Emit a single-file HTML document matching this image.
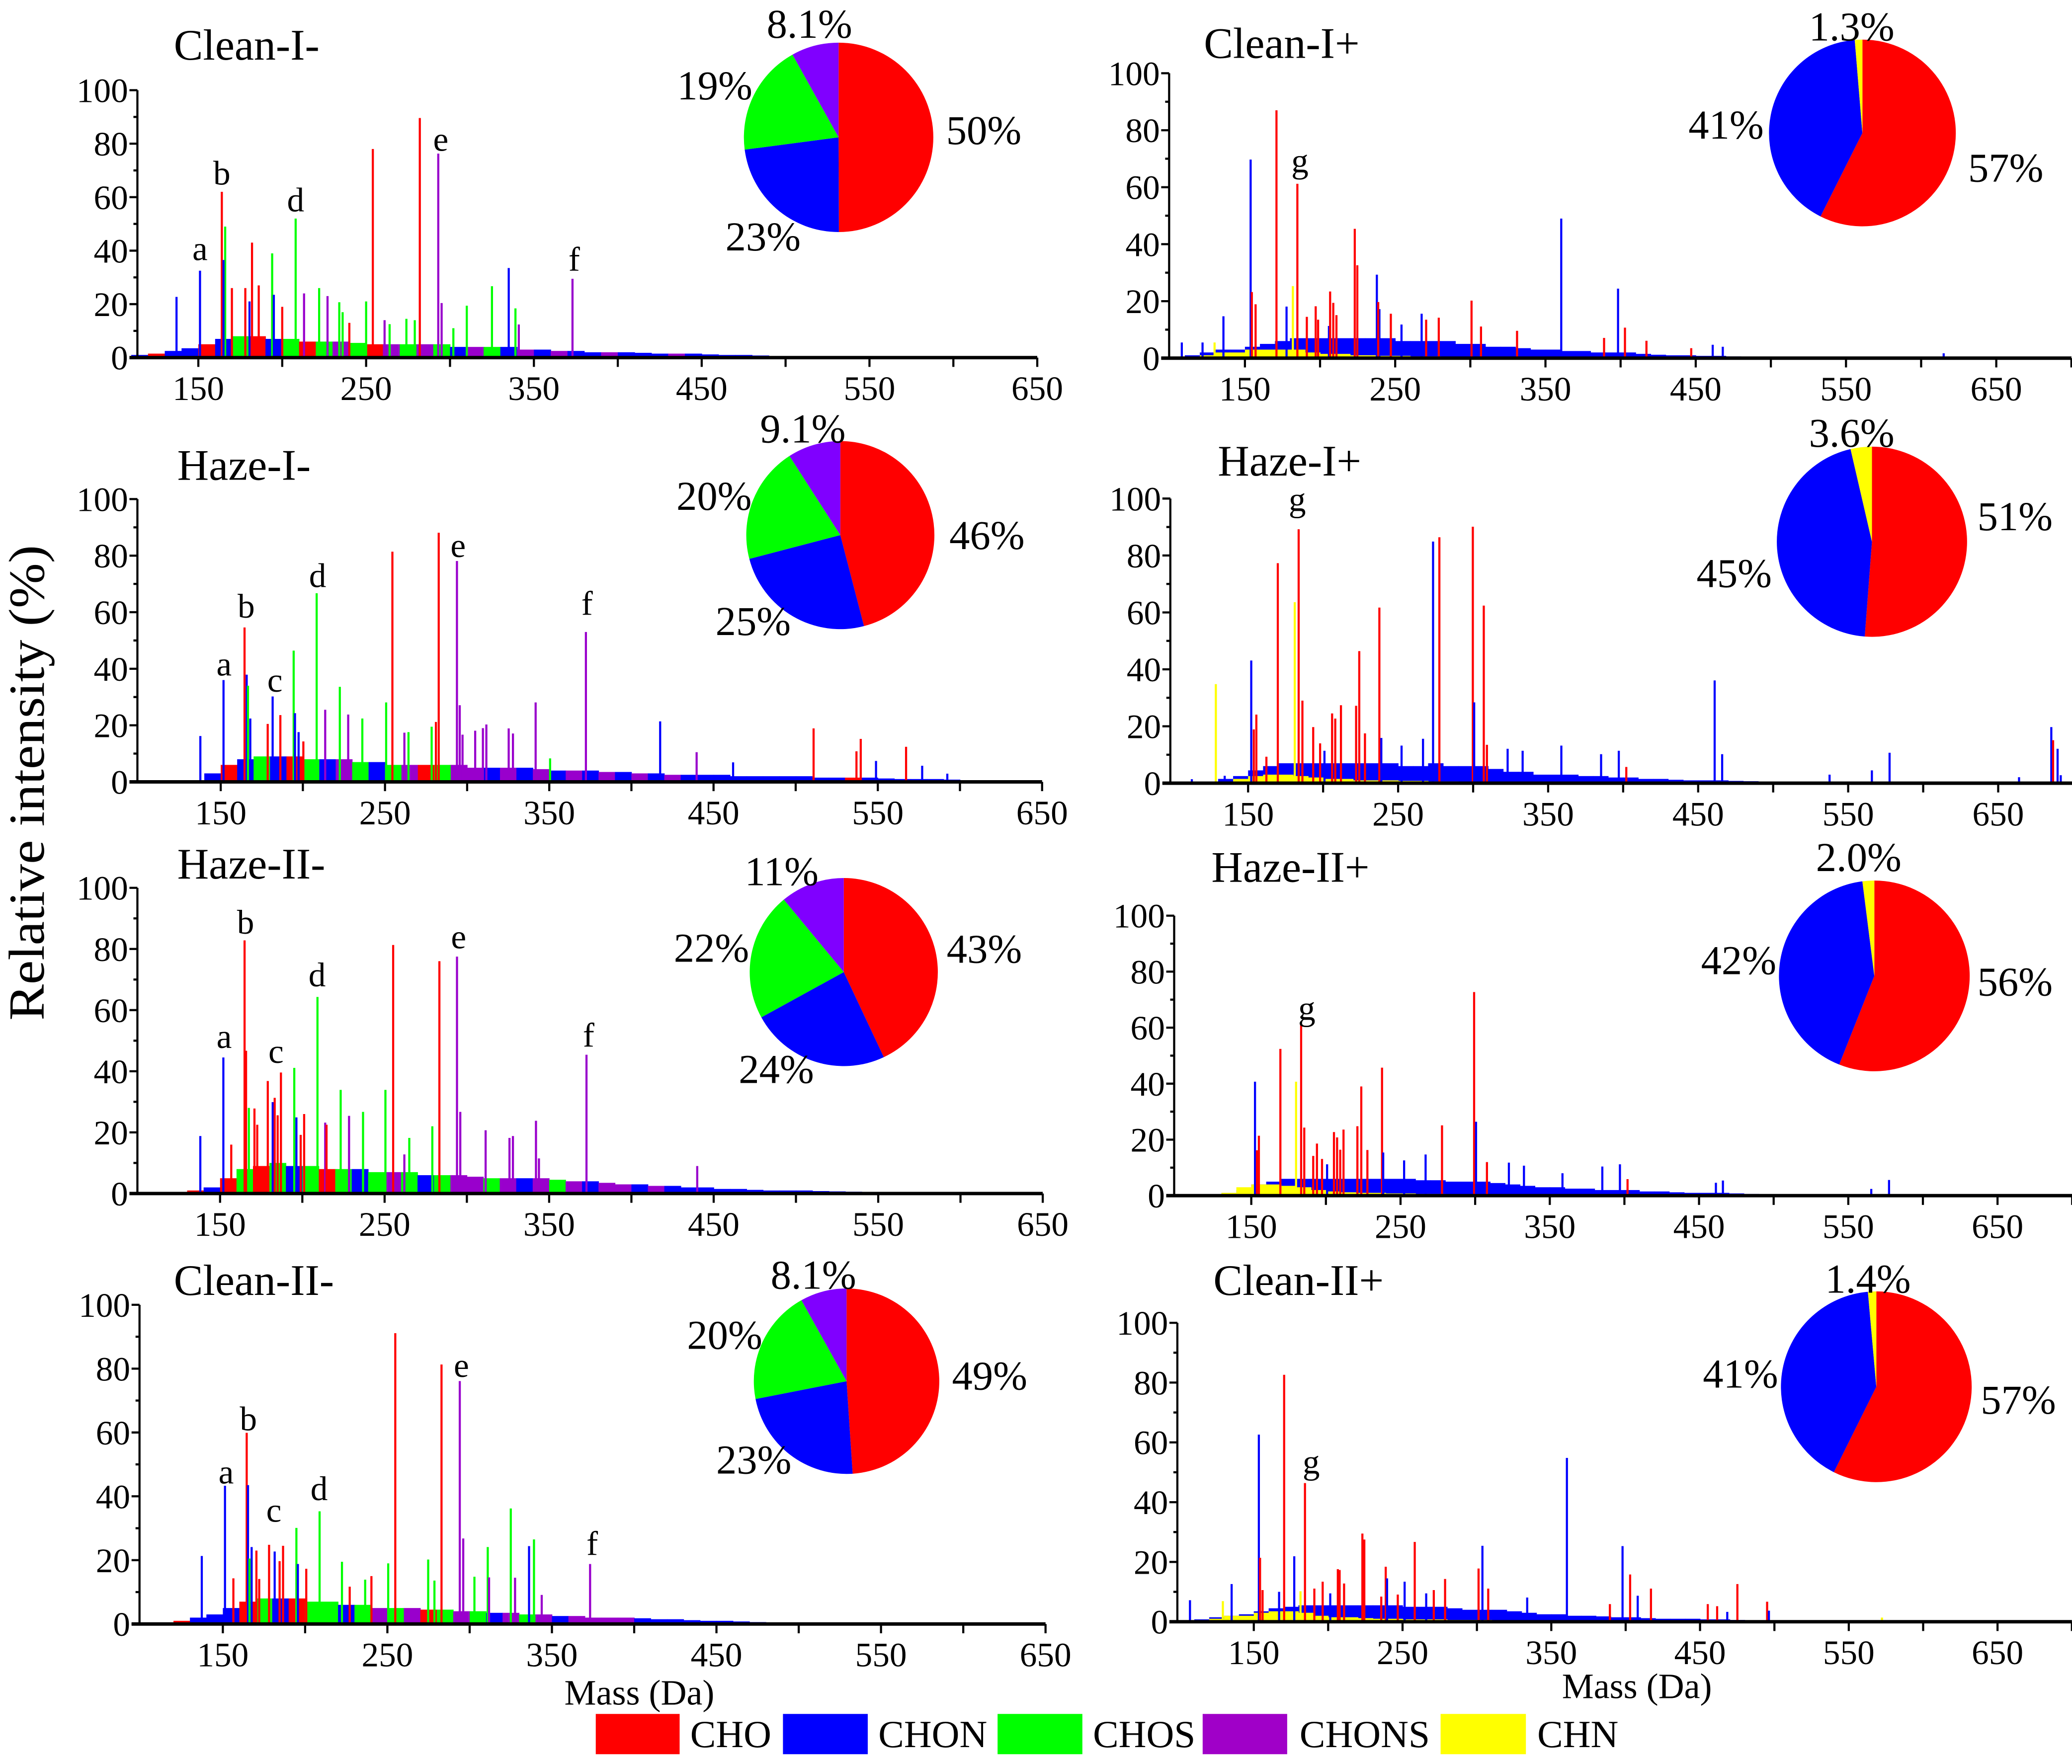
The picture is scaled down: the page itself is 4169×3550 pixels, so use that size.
<!DOCTYPE html>
<html><head><meta charset="utf-8"><style>
html,body{margin:0;padding:0;background:#fff;}
svg{display:block;}
text{font-family:"Liberation Serif",serif;fill:#000;}
</style></head><body>
<svg id="fig" width="4169" height="3550" viewBox="0 0 1564 1331.8" xmlns="http://www.w3.org/2000/svg">
<rect x="0" y="0" width="1564" height="1331.8" fill="#fff"/>
<text x="33" y="591" font-size="38" text-anchor="middle" textLength="359" lengthAdjust="spacingAndGlyphs" transform="rotate(-90 33 591)">Relative intensity (%)</text>
<text x="426" y="1287" font-size="27">Mass (Da)</text>
<text x="1179" y="1282" font-size="27">Mass (Da)</text>
<g>
<rect x="449.7" y="1294" width="63.3" height="30.4" fill="#FF0000"/>
<text x="521" y="1319" font-size="29">CHO</text>
<rect x="591" y="1294" width="64" height="30.4" fill="#0000FF"/>
<text x="663" y="1319" font-size="29">CHON</text>
<rect x="753" y="1294" width="64" height="30.4" fill="#00FF00"/>
<text x="825" y="1319" font-size="29">CHOS</text>
<rect x="907.8" y="1294" width="63.8" height="30.4" fill="#A000C8"/>
<text x="981" y="1319" font-size="29">CHONS</text>
<rect x="1087.4" y="1294" width="64.4" height="30.4" fill="#FFFF00"/>
<text x="1160.4" y="1319" font-size="29">CHN</text>
</g>
</svg>
<script>
// ===== DATA =====
// class codes: R=CHO, B=CHON, G=CHOS, P=CHONS, Y=CHN
const cleanIMinusMass=[137,151,164,166,165,170,182,178,186,180.5,194,195,200,208,213,222,227,234,236,240,250,261,254,264,274,279,282,293,295,302,310,325,335,339,341,373];
const cleanIMinusInt=[22.7,32.5,62,49,36.5,26,43,26,27,21,39,23.5,19,52,24,26,23,20.7,17,13,21,14,78,12.5,14.5,14,89.6,76.3,20.4,11,19.4,26.7,33.5,18.4,12.4,29.5];
const cleanIMinusCls=["B","B","R","G","B","R","R","R","R","B","G","B","R","G","P","G","P","G","G","R","G","P","R","G","G","G","R","P","P","G","G","G","B","G","P","P"];
const cleanIMinusEnvMass=[110,120,130,140,150,160,170,180,190,200,210,220,230,240,250,260,270,280,290,300,310,320,330,340,350,360,370,380,390,400,410,420,430,440,450,460,470,480,490,500];
const cleanIMinusEnvInt=[1,1.5,2.5,3.5,5,7,8,8,7,7,6,6,6,5.5,5,5,5,5,5,4,4,4,4,3,3,2.5,2.5,2,2,2,1.8,1.5,1.5,1.5,1.2,1,1,0.8,0.5,0.3];
const cleanIMinusEnvCls=["B","R","B","B","R","B","G","R","B","G","R","G","P","G","R","P","G","P","G","B","P","G","B","P","B","P","B","B","P","B","B","B","P","B","B","B","B","B","B","R"];
const cleanIMinusLabelText=["a","b","d","e","f"];
const cleanIMinusLabelMass=[151,164,208,294.5,374];
const cleanIMinusLabelInt=[36.5,64.7,54.7,77.3,32.5];
const cleanIMinusPie=[50,23,19,8.1];
const cleanIMinusPieLabels=["50%","23%","19%","8.1%"];

const hazeIMinusMass=[137.6,151.7,164.5,165.8,166.6,168,178.6,181.6,186.3,194.4,195.2,197.4,200.3,208.4,213.6,222.5,227.6,236.2,250.7,254.5,261.8,264.3,278.4,281,282.7,293.8,295.5,297.2,304.9,309.6,311.7,325.3,327.9,341.7,350.5,372.3,417.5,439.7,461.9,510.9,537,539.6,548.9,567.2,577,592.3];
const hazeIMinusInt=[16.2,36,54.6,37.9,34,22.4,20.5,30.2,23.6,46.4,24.3,17.6,14.3,66.7,25.5,33.6,23.8,22.4,28.1,81.4,17.4,17.6,19.5,21.2,88.1,78.1,27.1,16.7,18.1,19,20.3,18.9,17.1,28.1,8.3,53,21.4,10.5,6.9,18.9,10.8,15.2,7.4,12.4,5.7,2.9];
const hazeIMinusCls=["B","B","R","B","G","B","R","B","R","G","B","B","R","G","P","G","P","G","G","R","P","G","G","R","R","P","P","P","P","P","P","P","P","P","G","P","B","P","B","R","R","R","B","R","B","B"];
const hazeIMinusEnvMass=[140,150,160,170,180,190,200,210,220,230,240,250,260,270,280,290,300,310,320,330,340,350,360,370,380,390,400,410,420,430,440,450,460,470,480,490,500,510,520,530,540,550,560,570,580,590,600];
const hazeIMinusEnvInt=[3,6,8,9,9,9,8,8,8,7,7,6,6,6,6,6,5,5,5,5,4.5,4,4,4,3.5,3.5,3,3,2.5,2.5,2.5,2.5,2,2,2,2,2,1.5,1.5,1.5,1.5,1.2,1,1,1,0.8,0.5];
const hazeIMinusEnvCls=["B","R","B","G","B","R","G","B","P","G","B","G","P","R","G","P","P","B","P","B","P","B","P","B","P","B","P","B","P","B","B","B","B","B","B","B","B","B","B","R","B","B","B","B","B","B","B"];
const hazeIMinusLabelText=["a","b","c","d","e","f"];
const hazeIMinusLabelMass=[152,165.5,183,209,294.5,373];
const hazeIMinusLabelInt=[37.6,58.1,31.9,68.9,79.5,59];
const hazeIMinusPie=[46,25,20,9.1];
const hazeIMinusPieLabels=["46%","25%","20%","9.1%"];

const hazeIIMinusMass=[138,152,156.8,164.9,165.8,167.5,170.9,172.6,179,182,183.2,185,187,195.1,196.4,199,201.1,209.2,213.9,214.7,223.3,228.4,236.9,250.5,255.2,262,265,279,283.3,294,296,311.4,325.9,328,342,343.8,372.7,440];
const hazeIIMinusInt=[18.8,44.5,16,82.8,46.7,28,27.8,22.5,36.8,29.9,31.3,25.6,39.6,41.1,24.9,19.2,26,64.3,23.2,22.5,33.9,25.4,26.7,33.9,81.3,12.8,18.2,22,76,77.5,26.7,20.7,18.2,18.8,23.8,11.5,45.4,9];
const hazeIIMinusCls=["B","B","R","R","R","G","R","R","R","B","R","R","R","G","B","R","R","G","P","R","G","P","G","G","R","P","G","G","R","P","P","P","P","P","P","P","P","P"];
const hazeIIMinusEnvMass=[120,130,140,150,160,170,180,190,200,210,220,230,240,250,260,270,280,290,300,310,320,330,340,350,360,370,380,390,400,410,420,430,440,450,460,470,480,490,500,510,520,530,540,550,560,570];
const hazeIIMinusEnvInt=[0.5,1,2,5,8,9,10,9,9,8,8,8,7,7,7,6,6,6,5.5,5,5,5,5,4.5,4,4,3.5,3,3,2.5,2.5,2,2,1.5,1.5,1.2,1,1,1,0.8,0.7,0.6,0.5,0.4,0.3,0.2];
const hazeIIMinusEnvCls=["R","R","B","R","G","R","G","B","G","R","G","B","G","P","G","B","G","P","P","G","P","B","P","G","P","B","P","P","B","P","B","B","B","B","B","B","B","B","B","B","B","B","B","B","B","B"];
const hazeIIMinusLabelText=["a","b","c","d","e","f"];
const hazeIIMinusLabelMass=[152.5,165.5,184,209,295,374];
const hazeIIMinusLabelInt=[47.6,85,42.7,67.8,80.2,48];
const hazeIIMinusPie=[43,24,22,11];
const hazeIIMinusPieLabels=["43%","24%","22%","11%"];

const cleanIIMinusMass=[137.2,151.3,156.4,164.5,165.3,167.5,166.2,170.4,172.1,178.1,181.5,184.5,186.6,194.7,195.6,200.7,208.8,222.4,227.1,236.5,240.3,250.5,254.8,274.8,278.6,282.9,294,296.1,302.9,311,311.8,325,327.6,336.1,339.1,343.8,373.2];
const cleanIIMinusInt=[21.3,43.3,14.3,59.9,43.5,24.1,20.5,23,14.1,24.8,22.7,19.7,24.5,30.1,18.8,17.3,35.3,19.5,11.7,13.9,15,19,91.1,20.2,13.6,81.3,76.1,26.8,14.8,24.1,14.6,36.2,14.5,24.4,26.5,9.1,18.8];
const cleanIIMinusCls=["B","B","R","R","B","B","G","R","R","R","B","R","R","G","B","R","G","G","R","G","R","G","R","G","G","R","P","P","G","G","P","G","P","B","G","P","P"];
const cleanIIMinusEnvMass=[120,130,140,150,160,170,180,190,200,210,220,230,240,250,260,270,280,290,300,310,320,330,340,350,360,370,380,390,400,410,420,430,440,450,460,470,480];
const cleanIIMinusEnvInt=[1,2,3,5,7,8,8,8,7,7,6,6,5,5,5,4.5,4.5,4,4,3.5,3.5,3,3,2.5,2.5,2,2,2,1.8,1.5,1.5,1.2,1,1,0.8,0.6,0.4];
const cleanIIMinusEnvCls=["R","B","B","B","R","G","B","R","G","G","B","G","P","G","P","R","G","P","G","B","P","G","P","B","P","P","P","P","B","B","B","B","B","B","B","B","B"];
const cleanIIMinusLabelText=["a","b","c","d","e","f"];
const cleanIIMinusLabelMass=[152,165.5,181,208.5,295,374.5];
const cleanIIMinusLabelInt=[44,60.7,32,38.8,77.4,21.6];
const cleanIIMinusPie=[49,23,20,8.1];
const cleanIIMinusPieLabels=["49%","23%","20%","8.1%"];

const cleanIPlusMass=[108,121.8,135.7,129.8,153.8,154.6,157.1,171,177.7,181.9,184.9,191.2,197.1,198.7,205.9,206.7,208.8,210.9,223.1,224.8,237.8,239.5,238.7,254.2,247.1,267.6,270.6,279,300.8,307.1,331.1,360.5,389,398.3,402.9,417.2,461.3,468,447,615];
const cleanIPlusInt=[5.5,5.5,14.7,5.5,69.7,23.2,18.9,87,18.1,25.3,61.2,14.5,18.2,13.5,11.3,23.4,19.4,15.1,45.4,32.6,29.3,17.2,19.7,11.8,15.6,15.6,13.5,14.2,20.2,11.1,9.6,49,7.1,24.4,10.7,6.1,4.7,4,3.5,1.7];
const cleanIPlusCls=["B","B","B","Y","B","R","R","R","B","Y","R","R","R","R","B","R","R","R","R","R","B","B","R","B","R","B","R","R","R","R","R","B","R","B","R","R","B","B","R","B"];
const cleanIPlusEnvMass=[110,120,130,140,150,160,170,180,190,200,210,220,230,240,250,260,270,280,290,300,310,320,330,340,350,360,370,380,390,400,410,420,430,440,450,460,470,480,490,500,510];
const cleanIPlusEnvInt=[1,2,3,3,4,5,6,7,7,7,7,7,7,7,6,6,6,6,5,5,4,4,3.5,3,3,2.5,2.5,2,2,2,1.5,1.2,1,1,0.8,0.8,0.6,0.5,0.4,0.3,0.3];
const cleanIPlusYEnvMass=[120,130,140,150,160,170,180,190,200,210,220,230,240,250,260,270,280,290];
const cleanIPlusYEnvInt=[1,2,2,3,3,3,3,2,1.5,1.5,1,1,0.8,0.8,0.6,0.6,0.5,0.5];
const cleanIPlusLabelText=["g"];
const cleanIPlusLabelMass=[186.6];
const cleanIPlusLabelInt=[65.2];
const cleanIPlusPie=[57,41,1.3];
const cleanIPlusPieLabels=["57%","41%","1.3%"];

const hazeIPlusMass=[112.5,128.5,134.4,152.1,153.8,155.5,162.2,169.8,181.1,183.7,186.2,193.4,198,200.9,206,208.1,211.9,222,224.1,227.9,237.5,238.8,252.3,266.6,273.3,277.5,299.8,300.7,307.1,309.2,323,333,358.8,385.3,397.1,402.1,461,466,537.6,565.8,577.6,663.9,685.4,686.6,689.6,691.7];
const hazeIPlusInt=[1.4,34.8,2.6,43.1,18.9,24.1,9.3,77.3,63.6,89.2,29,19.7,14,11.4,24.5,22.7,27.4,27.2,46.4,17.5,61.7,15.9,13.2,15.6,84.9,86.4,90.1,28.4,62.4,13.5,12.1,11.4,13.2,10.2,11.4,5.7,36.1,10.2,3,4.5,10.7,2.1,19.7,15.1,12.1,2.8];
const hazeIPlusCls=["B","Y","B","B","R","R","R","R","Y","R","R","R","R","B","R","R","R","R","R","R","R","B","B","B","B","R","R","B","R","R","B","B","B","B","B","R","B","B","B","B","B","B","B","R","B","B"];
const hazeIPlusEnvMass=[130,140,150,160,170,180,190,200,210,220,230,240,250,260,270,280,290,300,310,320,330,340,350,360,370,380,390,400,410,420,430,440,450,460,470,480,490,500,510,520];
const hazeIPlusEnvInt=[1.5,2.5,4.5,6,7,7,7,7,7,7,7,7,6,6,7,6,6,6,5,4,4,3,3,3,2.5,2.5,2,2,1.5,1.5,1.2,1,1,1,0.8,0.7,0.5,0.4,0.3,0.3];
const hazeIPlusYEnvMass=[140,150,160,170,180,190,200,210,220,230,240,250,260,270,280,290,300];
const hazeIPlusYEnvInt=[1.5,2.5,3,3,2.5,2,1.5,1.5,1,1,1,0.8,0.8,0.6,0.6,0.5,0.5];
const hazeIPlusLabelText=["g"];
const hazeIPlusLabelMass=[182.8];
const hazeIPlusLabelInt=[95.6];
const hazeIPlusPie=[51,45,3.6];
const hazeIPlusPieLabels=["51%","45%","3.6%"];

const hazeIIPlusMass=[152.5,155.1,153.8,169.5,180,183.4,185.5,191.5,194,197.4,200.8,205.4,207.5,209.6,211.8,221.1,223.7,227.8,237.6,238.4,252.4,266.8,277.8,299.3,300.6,307.9,322.6,332.7,358.5,385.2,397,402.1,461.3,466,565.4,577.3];
const hazeIIPlusInt=[40.7,21.4,16.2,52.4,40.7,61.1,24.3,14.2,18.6,13.1,11.2,22.7,20.8,16.4,23.6,24.8,39,16.3,45.7,15.4,12.6,14.7,25.1,72.7,26.4,12,11.8,10.7,8,10.4,11.2,5.9,4.6,5.4,2.4,5.6];
const hazeIIPlusCls=["B","R","R","R","Y","R","R","R","R","R","B","R","R","R","R","R","R","R","R","B","B","B","R","R","B","R","B","B","B","B","B","R","B","B","B","B"];
const hazeIIPlusEnvMass=[130,140,150,160,170,180,190,200,210,220,230,240,250,260,270,280,290,300,310,320,330,340,350,360,370,380,390,400,410,420,430,440,450,460,470,480,490,500,510];
const hazeIIPlusEnvInt=[1,2,4,5,6,6,6,6,6,6,6,6,6,5.5,5.5,5,5,5,4.5,4,3.5,3,3,2.5,2.5,2,2,2,1.5,1.5,1.2,1,1,1,0.8,0.6,0.5,0.4,0.3];
const hazeIIPlusYEnvMass=[130,140,150,160,170,180,190,200,210,220,230,240,250,260,270,280,290,300];
const hazeIIPlusYEnvInt=[1,3,4,4,3.5,3,2,1.5,1.2,1,1,0.8,0.8,0.6,0.6,0.5,0.5,0.5];
const hazeIIPlusLabelText=["g"];
const hazeIIPlusLabelMass=[187.2];
const hazeIIPlusLabelInt=[62.8];
const hazeIIPlusPie=[56,42,2.0];
const hazeIIPlusPieLabels=["56%","42%","2.0%"];

const cleanIIPlusMass=[107.1,135.1,129.2,153.4,154.2,155.9,167,170.4,177.2,181.4,184.4,190.7,196.3,201.4,206.5,207.7,210.7,223,224.3,235.7,238.7,239.6,246.8,251.4,258.2,265.9,271,278.6,301.1,303.7,307.6,333.8,360.5,389.4,397.9,403,408.1,417,455.2,461.5,475.1,468.3,495.1,496.3,572.3];
const cleanIIPlusInt=[7.2,12.6,6.9,62.6,21.4,10.6,10,82.6,21.9,10.2,46.4,11.1,13.4,9.5,17.6,17.3,12.8,29.5,27.5,8.4,18.4,14.5,9.1,13.4,26.7,9.5,10.6,14.3,17.8,25.4,11.1,8.1,54.8,5.9,25.3,15.8,8.7,11.1,5.9,5.2,12.6,3.3,6.7,3.7,1.4];
const cleanIIPlusCls=["B","B","Y","B","R","R","B","R","B","Y","R","R","R","B","R","R","R","R","R","R","R","B","R","B","R","B","R","R","R","B","R","B","B","R","B","R","B","R","R","R","R","B","R","B","Y"];
const cleanIIPlusEnvMass=[110,120,130,140,150,160,170,180,190,200,210,220,230,240,250,260,270,280,290,300,310,320,330,340,350,360,370,380,390,400,410,420,430,440,450,460,470,480,490,500,510];
const cleanIIPlusEnvInt=[0.8,1.5,2,2.5,3.5,4.5,5,5.5,5.5,5.5,5.5,5.5,5.5,5.5,5,5,5,4.5,4,4,4,3.5,3,2.5,2.5,2,2,1.8,1.5,1.5,1.2,1,1,1,0.8,0.8,0.6,0.5,0.4,0.3,0.3];
const cleanIIPlusYEnvMass=[120,130,140,150,160,170,180,190,200,210,220,230,240,250,260,270,280,290,300,310,320];
const cleanIIPlusYEnvInt=[1,2,2,3,3.5,3.5,3,2,1.5,1.5,1.2,1,1,0.8,0.8,0.8,0.6,0.6,0.6,0.5,0.5];
const cleanIIPlusLabelText=["g"];
const cleanIIPlusLabelMass=[188.6];
const cleanIIPlusLabelInt=[49.6];
const cleanIIPlusPie=[57,41,1.4];
const cleanIIPlusPieLabels=["57%","41%","1.4%"];

const yTicks=[0,20,40,60,80,100];
const xTickLabels=[150,250,350,450,550,650];

// ===== RENDER =====
const NS="http://www.w3.org/2000/svg";
const svg=document.getElementById('fig');
const COL={R:"#FF0000",B:"#0000FF",G:"#00FF00",P:"#9900CC",Y:"#FFFF00"};
const PIECOL={R:"#FF0000",B:"#0000FF",G:"#00FF00",P:"#8000FF",Y:"#FFFF00"};
function mk(tag,attrs,parent){const e=document.createElementNS(NS,tag);for(const k in attrs)e.setAttribute(k,attrs[k]);(parent||svg).appendChild(e);return e;}

const panels=[
 {id:"clean-i-neg",title:"Clean-I-",tx:131.2,ty:45.1,x150:149.7,ppd:1.2665,y0:270,y100:68.1,ax:103.7,mMin:108,mMax:650,tickMax:650,
  mass:cleanIMinusMass,inten:cleanIMinusInt,cls:cleanIMinusCls,envM:cleanIMinusEnvMass,envI:cleanIMinusEnvInt,envC:cleanIMinusEnvCls,
  lt:cleanIMinusLabelText,lm:cleanIMinusLabelMass,li:cleanIMinusLabelInt,pie:cleanIMinusPie,pieL:cleanIMinusPieLabels,pieC:["R","B","G","P"],
  cx:633,cy:103.7,r:71.5,pl:[[742.6,108.8],[576,189],[539.5,75],[611,28.5]]},
 {id:"haze-i-neg",title:"Haze-I-",tx:133.8,ty:362.2,x150:166.6,ppd:1.24,y0:590.3,y100:376.8,ax:103.7,mMin:99,mMax:650,tickMax:650,
  mass:hazeIMinusMass,inten:hazeIMinusInt,cls:hazeIMinusCls,envM:hazeIMinusEnvMass,envI:hazeIMinusEnvInt,envC:hazeIMinusEnvCls,
  lt:hazeIMinusLabelText,lm:hazeIMinusLabelMass,li:hazeIMinusLabelInt,pie:hazeIMinusPie,pieL:hazeIMinusPieLabels,pieC:["R","B","G","P"],
  cx:634.3,cy:404,r:71,pl:[[745,414.5],[568.5,479.5],[539,385],[606,334]]},
 {id:"haze-ii-neg",title:"Haze-II-",tx:133.8,ty:663.2,x150:166.1,ppd:1.242,y0:901.1,y100:670.3,ax:103.7,mMin:99,mMax:650,tickMax:650,
  mass:hazeIIMinusMass,inten:hazeIIMinusInt,cls:hazeIIMinusCls,envM:hazeIIMinusEnvMass,envI:hazeIIMinusEnvInt,envC:hazeIIMinusEnvCls,
  lt:hazeIIMinusLabelText,lm:hazeIIMinusLabelMass,li:hazeIIMinusLabelInt,pie:hazeIIMinusPie,pieL:hazeIIMinusPieLabels,pieC:["R","B","G","P"],
  cx:636.9,cy:733.9,r:71,pl:[[743,726.8],[586,817.7],[537,726.2],[590,668.3]]},
 {id:"clean-ii-neg",title:"Clean-II-",tx:131.2,ty:977.6,x150:168.2,ppd:1.242,y0:1226.1,y100:985.1,ax:105.3,mMin:99,mMax:650,tickMax:650,
  mass:cleanIIMinusMass,inten:cleanIIMinusInt,cls:cleanIIMinusCls,envM:cleanIIMinusEnvMass,envI:cleanIIMinusEnvInt,envC:cleanIIMinusEnvCls,
  lt:cleanIIMinusLabelText,lm:cleanIIMinusLabelMass,li:cleanIIMinusLabelInt,pie:cleanIIMinusPie,pieL:cleanIIMinusPieLabels,pieC:["R","B","G","P"],
  cx:639,cy:1042.8,r:70,pl:[[747,1049.2],[569,1112.6],[547,1018.3],[614,973]]},
 {id:"clean-i-pos",title:"Clean-I+",tx:908.7,ty:43.7,x150:939.7,ppd:1.1343,y0:270.4,y100:55.3,ax:882.5,mMin:100,mMax:700,tickMax:700,
  mass:cleanIPlusMass,inten:cleanIPlusInt,cls:cleanIPlusCls,envM:cleanIPlusEnvMass,envI:cleanIPlusEnvInt,yM:cleanIPlusYEnvMass,yI:cleanIPlusYEnvInt,
  lt:cleanIPlusLabelText,lm:cleanIPlusLabelMass,li:cleanIPlusLabelInt,pie:cleanIPlusPie,pieL:cleanIPlusPieLabels,pieC:["R","B","Y"],
  cx:1405.8,cy:100.4,r:70.5,pl:[[1514,137.2],[1302.9,104.7],[1397.7,30.5]]},
 {id:"haze-i-pos",title:"Haze-I+",tx:919.2,ty:359,x150:942.1,ppd:1.1324,y0:591.3,y100:376.4,ax:883.4,mMin:100,mMax:700,tickMax:700,
  mass:hazeIPlusMass,inten:hazeIPlusInt,cls:hazeIPlusCls,envM:hazeIPlusEnvMass,envI:hazeIPlusEnvInt,yM:hazeIPlusYEnvMass,yI:hazeIPlusYEnvInt,
  lt:hazeIPlusLabelText,lm:hazeIPlusLabelMass,li:hazeIPlusLabelInt,pie:hazeIPlusPie,pieL:hazeIPlusPieLabels,pieC:["R","B","Y"],
  cx:1413,cy:409,r:71.8,pl:[[1521,400.2],[1309,443.3],[1397.7,337.2]]},
 {id:"haze-ii-pos",title:"Haze-II+",tx:914.4,ty:665.7,x150:944.5,ppd:1.1266,y0:902.7,y100:691.3,ax:886.3,mMin:100,mMax:700,tickMax:700,
  mass:hazeIIPlusMass,inten:hazeIIPlusInt,cls:hazeIIPlusCls,envM:hazeIIPlusEnvMass,envI:hazeIIPlusEnvInt,yM:hazeIIPlusYEnvMass,yI:hazeIIPlusYEnvInt,
  lt:hazeIIPlusLabelText,lm:hazeIIPlusLabelMass,li:hazeIIPlusLabelInt,pie:hazeIIPlusPie,pieL:hazeIIPlusPieLabels,pieC:["R","B","Y"],
  cx:1414.8,cy:736.8,r:72,pl:[[1521,751.6],[1312.4,735.4],[1403,657.7]]},
 {id:"clean-ii-pos",title:"Clean-II+",tx:915.9,ty:977.6,x150:946.4,ppd:1.1228,y0:1224.4,y100:998.7,ax:888.7,mMin:100,mMax:700,tickMax:700,
  mass:cleanIIPlusMass,inten:cleanIIPlusInt,cls:cleanIIPlusCls,envM:cleanIIPlusEnvMass,envI:cleanIIPlusEnvInt,yM:cleanIIPlusYEnvMass,yI:cleanIIPlusYEnvInt,
  lt:cleanIIPlusLabelText,lm:cleanIIPlusLabelMass,li:cleanIIPlusLabelInt,pie:cleanIIPlusPie,pieL:cleanIIPlusPieLabels,pieC:["R","B","Y"],
  cx:1416.3,cy:1047,r:72,pl:[[1523.5,1067.3],[1313.8,1047.7],[1410,976]]}
];

panels.forEach(p=>{
  const g=mk('g',{});
  
  
  const xs=m=>p.x150+(m-150)*p.ppd;
  const ys=v=>p.y0-v*(p.y0-p.y100)/100;
  // envelope (dense low-intensity signal)
  p.envM.forEach((m,i)=>{
    const c=p.envC?(p.envC[i]||"B"):"B";
    const r=mk('rect',{x:xs(m),y:ys(p.envI[i]),width:10*p.ppd+0.3,height:p.y0-ys(p.envI[i]),fill:COL[c]},g);
    
    
  });
  if(p.yM){p.yM.forEach((m,i)=>{
    const r=mk('rect',{x:xs(m),y:ys(p.yI[i]),width:10*p.ppd+0.3,height:p.y0-ys(p.yI[i]),fill:COL.Y},g);
    
    
  });}
  // peaks
  p.mass.forEach((m,i)=>{
    const ln=mk('line',{x1:xs(m),x2:xs(m),y1:p.y0,y2:ys(p.inten[i]),stroke:COL[p.cls[i]],'stroke-width':1.6},g);
    
    
  });
  // peak letter labels
  p.lt.forEach((t,i)=>{
    const tx=mk('text',{x:xs(p.lm[i]),y:ys(p.li[i]),'font-size':26,'text-anchor':'middle'},g);
    tx.textContent=t;
    
    
  });
  // axes
  const xa0=p.ax-6, xa1=xs(p.tickMax);
  const xl=mk('line',{x1:xa0,x2:xa1,y1:p.y0,y2:p.y0,stroke:'#000','stroke-width':2.6},g);
  
  
  const yl=mk('line',{x1:p.ax,x2:p.ax,y1:p.y0,y2:p.y100,stroke:'#000','stroke-width':1.6},g);
  
  
  for(let m=150;m<=p.tickMax;m+=50){
    const t=mk('line',{x1:xs(m),x2:xs(m),y1:p.y0,y2:p.y0+7,stroke:'#000','stroke-width':1.6},g);
    
    
  }
  xTickLabels.forEach(v=>{
    const t=mk('text',{x:xs(v),y:p.y0+32,'font-size':26,'text-anchor':'middle'},g);
    t.textContent=v;
    
    
  });
  for(let v=10;v<=90;v+=20){
    const t=mk('line',{x1:p.ax-3,x2:p.ax,y1:ys(v),y2:ys(v),stroke:'#000','stroke-width':1.6},g);
    
    
  }
  yTicks.forEach(v=>{
    const t=mk('line',{x1:p.ax-6,x2:p.ax,y1:ys(v),y2:ys(v),stroke:'#000','stroke-width':1.6},g);
    
    
    const l=mk('text',{x:p.ax-7,y:ys(v)+9,'font-size':26,'text-anchor':'end'},g);
    l.textContent=v;
    
    
  });
  // title
  const tt=mk('text',{x:p.tx,y:p.ty,'font-size':33},g);
  tt.textContent=p.title;
  
  
  // pie
  const tot=p.pie.reduce((a,b)=>a+b,0);
  let a0=-Math.PI/2;
  p.pie.forEach((v,i)=>{
    const a1=a0+v/tot*2*Math.PI;
    const x0=p.cx+p.r*Math.cos(a0),y0=p.cy+p.r*Math.sin(a0);
    const x1=p.cx+p.r*Math.cos(a1),y1=p.cy+p.r*Math.sin(a1);
    const large=(a1-a0)>Math.PI?1:0;
    const s=mk('path',{d:`M${p.cx},${p.cy} L${x0},${y0} A${p.r},${p.r} 0 ${large} 1 ${x1},${y1} Z`,fill:PIECOL[p.pieC[i]]},g);
    
    
    a0=a1;
  });
  p.pieL.forEach((t,i)=>{
    const l=mk('text',{x:p.pl[i][0],y:p.pl[i][1],'font-size':31,'text-anchor':'middle'},g);
    l.textContent=t;
    
    
  });
});
</script>
</body></html>
